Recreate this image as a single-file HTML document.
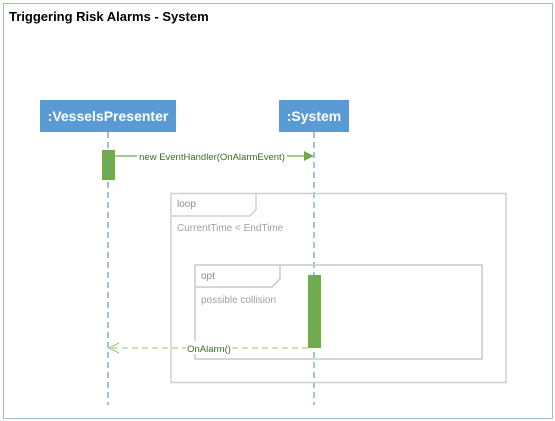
<!DOCTYPE html>
<html><head><style>body{margin:0;background:#fff}svg{display:block}</style></head><body>
<svg width="555" height="421" xmlns="http://www.w3.org/2000/svg" font-family="Liberation Sans, sans-serif">
<rect x="3.5" y="3.5" width="549" height="415" fill="#fff" stroke="#9dbbdc" stroke-width="1"/>
<text x="9" y="21" font-size="13" font-weight="bold" fill="#000">Triggering Risk Alarms - System</text>
<line x1="108" y1="132" x2="108" y2="405" stroke="#5b9bd5" stroke-width="1.2" stroke-dasharray="6,4"/>
<line x1="314" y1="132" x2="314" y2="405" stroke="#5b9bd5" stroke-width="1.2" stroke-dasharray="6,4"/>
<rect x="40" y="100" width="136" height="32" fill="#5b9bd5"/>
<text x="108" y="121" font-size="14" font-weight="bold" fill="#fff" text-anchor="middle">:VesselsPresenter</text>
<rect x="279" y="100" width="70" height="32" fill="#5b9bd5"/>
<text x="314" y="121" font-size="14" font-weight="bold" fill="#fff" text-anchor="middle">:System</text>
<rect x="171" y="193.5" width="335" height="189" fill="none" stroke="#d0d0d0" stroke-width="1.5"/>
<path d="M171 216 H250 L256 210 V193.5" fill="none" stroke="#d0d0d0" stroke-width="1.5"/>
<text x="177" y="207" font-size="10" fill="#8c8c8c">loop</text>
<text x="177" y="231" font-size="10" fill="#a0a0a0">CurrentTime &lt; EndTime</text>
<rect x="195" y="265" width="287" height="94" fill="none" stroke="#c8c8c8" stroke-width="1.5"/>
<path d="M195 287 H272 L280 279 V265" fill="none" stroke="#c8c8c8" stroke-width="1.5"/>
<text x="201" y="279" font-size="10" fill="#8c8c8c">opt</text>
<text x="201" y="303" font-size="10" fill="#a0a0a0">possible collision</text>
<rect x="102" y="150" width="13" height="30" fill="#70ad47"/>
<rect x="308" y="275" width="13" height="73" fill="#70ad47"/>
<line x1="314" y1="275" x2="314" y2="348" stroke="#5b9bd5" stroke-dasharray="6,4"/>
<line x1="108" y1="150" x2="108" y2="180" stroke="#5b9bd5" stroke-dasharray="6,4"/>
<line x1="115" y1="156" x2="306" y2="156" stroke="#70ad47" stroke-width="1.2"/>
<polygon points="314,156 304,151 304,161" fill="#70ad47"/>
<rect x="137" y="149" width="150" height="13" fill="#fff"/>
<text x="212" y="160" font-size="9.5" fill="#3e6b26" text-anchor="middle">new EventHandler(OnAlarmEvent)</text>
<line x1="308" y1="348" x2="110" y2="348" stroke="#a9d18e" stroke-width="1.3" stroke-dasharray="6,4"/>
<polyline points="119,343 109,348 119,353" fill="none" stroke="#a9d18e" stroke-width="1.3"/>
<rect x="186" y="341" width="46" height="13" fill="#fff"/>
<text x="209" y="352" font-size="9.5" fill="#3e6b26" text-anchor="middle">OnAlarm()</text>
</svg>
</body></html>
